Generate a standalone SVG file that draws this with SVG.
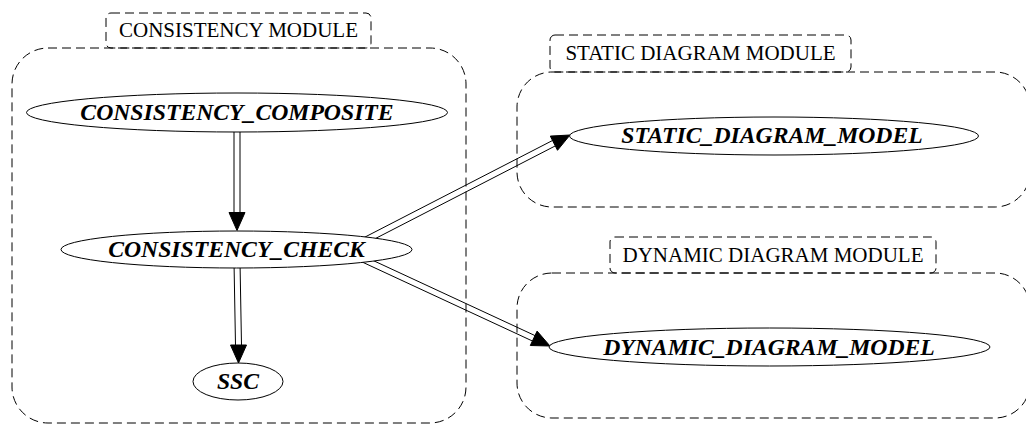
<svg xmlns="http://www.w3.org/2000/svg" width="1026" height="426" viewBox="0 0 1026 426">
  <style>
    .cluster { fill: none; stroke: #000; stroke-width: 1; stroke-dasharray: 9,5; }
    .clabel { font-family: 'Liberation Serif', 'DejaVu Serif', serif; font-size: 21px; fill: #000; text-anchor: middle; }
    .node ellipse { fill: #fff; stroke: #000; stroke-width: 1; }
    .node text { font-family: 'Liberation Serif', 'DejaVu Serif', serif; font-size: 23.7px; font-weight: bold; font-style: italic; fill: #000; text-anchor: middle; }
    .edge line { stroke: #000; stroke-width: 1; }
    .edge polygon { fill: #000; stroke: #000; stroke-width: 1; }
  </style>
  <rect width="1026" height="426" fill="#fff"/>

  <!-- module clusters -->
  <g id="cluster_consistency">
    <rect class="cluster" x="12" y="48" width="454" height="375" rx="36" ry="36"/>
    <rect class="cluster" x="106" y="13" width="265" height="35" rx="5" ry="5"/>
    <text class="clabel" x="238.5" y="37">CONSISTENCY MODULE</text>
  </g>
  <g id="cluster_static">
    <rect class="cluster" x="517" y="72" width="513" height="135" rx="35" ry="35"/>
    <rect class="cluster" x="550" y="35" width="301" height="37" rx="5" ry="5"/>
    <text class="clabel" x="700.5" y="60">STATIC DIAGRAM MODULE</text>
  </g>
  <g id="cluster_dynamic">
    <rect class="cluster" x="517" y="273" width="513" height="145" rx="35" ry="35"/>
    <rect class="cluster" x="610" y="237" width="326" height="36" rx="5" ry="5"/>
    <text class="clabel" x="773" y="262">DYNAMIC DIAGRAM MODULE</text>
  </g>

  <!-- connectors: double-line edges with filled arrowheads -->
  <g id="edges">
    <g class="edge" id="e_composite_check">
      <line x1="234" y1="128" x2="234" y2="213"/>
      <line x1="240" y1="128" x2="240" y2="213"/>
      <polygon points="229,212.5 245,212.5 237,230.5"/>
    </g>
    <g class="edge" id="e_check_ssc">
      <line x1="234" y1="262" x2="235.5" y2="345.5"/>
      <line x1="240" y1="262" x2="241.5" y2="345.5"/>
      <polygon points="230.5,345 246.5,345 238.5,363"/>
    </g>
    <g class="edge" id="e_check_static">
      <line x1="358.7" y1="240.3" x2="552.5" y2="140.5"/>
      <line x1="361.5" y1="245.7" x2="555.3" y2="145.9"/>
      <polygon points="550.3,136.1 557.5,150.3 570,135"/>
    </g>
    <g class="edge" id="e_check_dynamic">
      <line x1="358.7" y1="260.4" x2="532.4" y2="341"/>
      <line x1="361.3" y1="255" x2="535" y2="335.6"/>
      <polygon points="537.1,331.1 530.3,345.5 550,346"/>
    </g>
  </g>

  <!-- nodes -->
  <g class="node" id="CONSISTENCY_COMPOSITE">
    <ellipse cx="237" cy="112.5" rx="210.5" ry="19.5"/>
    <text x="237" y="120">CONSISTENCY_COMPOSITE</text>
  </g>
  <g class="node" id="CONSISTENCY_CHECK">
    <ellipse cx="236.5" cy="249.5" rx="175.5" ry="18.5"/>
    <text x="236.5" y="256.5">CONSISTENCY_CHECK</text>
  </g>
  <g class="node" id="SSC">
    <ellipse cx="238" cy="381.5" rx="45" ry="18.5"/>
    <text x="238" y="388.5">SSC</text>
  </g>
  <g class="node" id="STATIC_DIAGRAM_MODEL">
    <ellipse cx="774" cy="136" rx="204.5" ry="19"/>
    <text x="772" y="143">STATIC_DIAGRAM_MODEL</text>
  </g>
  <g class="node" id="DYNAMIC_DIAGRAM_MODEL">
    <ellipse cx="769.5" cy="347" rx="220.5" ry="19"/>
    <text x="769" y="355">DYNAMIC_DIAGRAM_MODEL</text>
  </g>
</svg>
